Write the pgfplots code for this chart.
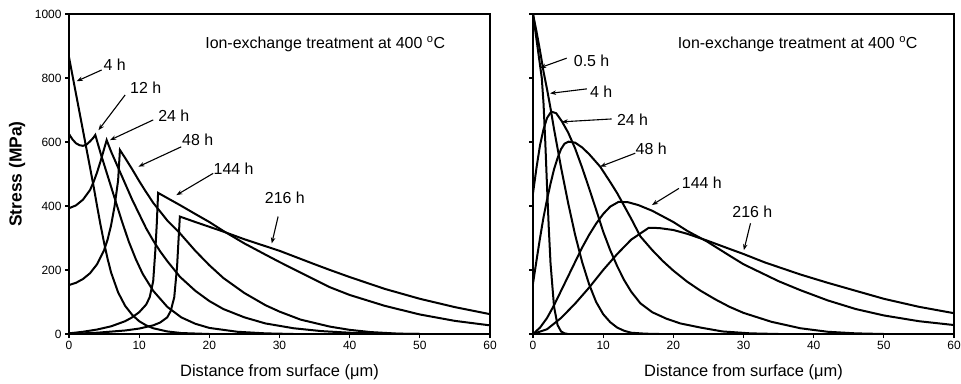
\documentclass[border=0pt]{standalone}
\usepackage{fontspec}
\setmainfont{Liberation Sans}
\usepackage{pgfplots}
\pgfplotsset{compat=1.18}
\usetikzlibrary{arrows.meta}

\pgfplotsset{
  panel/.style={
    scale only axis, width=421bp, height=320bp,
    xmin=0, xmax=60, ymin=0, ymax=1000,
    xtick={0,10,...,60}, ytick={0,200,...,1000},
    tick pos=left, tick align=outside,
    major tick length=4bp,
    axis line style={line width=1.2bp},
    every tick/.style={line width=1.2bp, black},
    /pgf/number format/assume math mode=true,
    /pgf/number format/1000 sep={},
    tick label style={font=\fontsize{12}{14}\selectfont},
    xlabel style={at={(axis description cs:0.5,-0.118)}, anchor=center, font=\fontsize{16.5}{19}\selectfont},
    ylabel style={at={(axis description cs:-0.123,0.5)}, anchor=center, font=\bfseries\fontsize{17.5}{20}\selectfont},
    every axis plot post/.style={black, solid, mark=none, line width=2bp},
  },
}
\tikzset{
  lab/.style={anchor=west, font=\fontsize{16}{18}\selectfont, inner sep=0pt},
  arr/.style={-{Stealth[length=6bp,width=4.5bp]}, line width=1.1bp},
}

\begin{document}
\begin{tikzpicture}[x=1bp,y=1bp]
\useasboundingbox (0,0) rectangle (961,383);

% ---------------- Left panel ----------------
\begin{axis}[panel, at={(69bp,49bp)}, anchor=south west,
  ylabel={Stress (MPa)}, xlabel={Distance from surface (μm)}]
% 4 h
\addplot coordinates {(0,865)(1,750)(2,635)(3,520)(3.5,462)(4,400)(4.5,340)(5,285)(5.5,235)(6,192)(7,130)(8,88)(9,60)(10,40)(11,27)(12,18)(14,8)(16,3)(20,0)(60,0)};
% 12 h
\addplot coordinates {(0,625)(0.5,608)(1,596)(1.5,590)(2,588)(2.5,592)(3,602)(3.5,614)(3.75,622)(4.5,565)(5.5,495)(6.5,425)(7.5,355)(8.5,290)(9.5,235)(10.5,188)(12,135)(14,85)(16,52)(18,32)(20,19)(24,7)(28,2)(32,0)(60,0)};
% 24 h
\addplot coordinates {(0,393)(1,402)(2,420)(3,450)(3.5,475)(4,505)(4.5,540)(5,578)(5.37,606)(6,570)(7,520)(8,470)(9,420)(10,375)(11,330)(12,292)(13,258)(14,228)(15.8,179)(18,135)(20,103)(22,78)(25,52)(28,33)(32,18)(36,9)(40,4)(45,1)(50,0)(60,0)};
% 48 h
\addplot coordinates {(0,153)(1,160)(2,172)(3,190)(4,218)(5,262)(5.5,295)(6,340)(6.5,400)(7,480)(7.26,575)(8,550)(9,515)(10,478)(10.8,450)(12,410)(14,355)(15.8,315)(18,260)(20,215)(22,175)(25,128)(28,90)(30,70)(33,45)(37.2,23)(40,13)(43,6)(47,1)(50,0)(60,0)};
% 144 h
\addplot coordinates {(0,2)(2,7)(4,14)(6,24)(8,40)(9,52)(10,68)(11,92)(11.5,115)(12,165)(12.3,260)(12.5,340)(12.7,441)(14,425)(15.8,403)(18,375)(20,350)(22,322)(25,283)(28,248)(30,225)(35,170)(37.2,146)(40,122)(45,88)(50,61)(55,41)(60,27)};
% 216 h
\addplot coordinates {(0,0)(4,4)(8,11)(10,17)(12,27)(13,36)(14,52)(14.5,72)(15,115)(15.4,210)(15.6,290)(15.8,367)(18,350)(20,335)(22,320)(25,296)(30,260)(35,218)(37.2,200)(40,178)(45,141)(50,110)(55,84)(60,62)};

\node[lab] at (axis cs:19.4,906) {Ion-exchange treatment at 400 \textsuperscript{o}C};
\node[lab] at (axis cs:4.9,840) {4 h};
\draw[arr] (axis cs:4.65,825) -- (axis cs:1.1,790);
\node[lab] at (axis cs:8.7,769) {12 h};
\draw[arr] (axis cs:8.0,747) -- (axis cs:4.2,637);
\node[lab] at (axis cs:12.7,681) {24 h};
\draw[arr] (axis cs:12.0,669) -- (axis cs:5.85,606);
\node[lab] at (axis cs:16.1,606) {48 h};
\draw[arr] (axis cs:16.0,585) -- (axis cs:9.9,523);
\node[lab] at (axis cs:20.6,516) {144 h};
\draw[arr] (axis cs:20.55,502) -- (axis cs:15.3,434);
\node[lab] at (axis cs:27.9,425) {216 h};
\draw[arr] (axis cs:29.8,367) -- (axis cs:28.9,283);
\end{axis}

% ---------------- Right panel ----------------
\begin{axis}[panel, at={(533bp,49bp)}, anchor=south west,
  yticklabels={}, xlabel={Distance from surface (μm)}]
% 0.5 h
\addplot coordinates {(0,1000)(0.5,920)(1,840)(1.25,800)(1.5,720)(1.75,600)(2,460)(2.25,330)(2.5,220)(3,85)(3.5,28)(4,8)(4.5,2)(5,0)(60,0)};
% 4 h
\addplot coordinates {(0,1000)(0.5,945)(1,885)(1.5,820)(2,765)(2.5,705)(3,640)(4,520)(5,410)(6,310)(7,225)(8,155)(9,100)(10,62)(11,37)(12,20)(13,10)(14,4)(16,1)(18,0)(60,0)};
% 24 h
\addplot coordinates {(0,440)(0.5,520)(1,590)(1.5,640)(2,675)(2.6,695)(3.3,690)(4.1,665)(5,630)(6,580)(7,520)(8,455)(9,388)(10,320)(11,262)(12,212)(13,168)(14,132)(15.3,96)(17,68)(19,48)(21,33)(23.9,20)(27,8)(31,2)(35,0)(60,0)};
% 48 h
\addplot coordinates {(0,158)(0.5,230)(1,300)(1.5,365)(2,420)(2.5,470)(3,515)(3.5,550)(4,578)(4.5,595)(5.05,601)(6,598)(7,583)(8,562)(9.57,523)(11,475)(12,440)(13,400)(14,360)(15.3,305)(17,262)(18.5,228)(20,198)(22,163)(23.9,135)(26,108)(28,85)(30,66)(34,38)(38.1,18)(42,7)(46,2)(50,0)(60,0)};
% 144 h
\addplot coordinates {(0,0)(1,20)(2,50)(3,90)(4,135)(5,180)(6,225)(7,270)(8,310)(9,345)(10,375)(11,398)(12.2,413)(13.5,412)(15,403)(17,385)(20,350)(22,322)(24.8,289)(28,245)(30,218)(35,165)(38.1,137)(42,105)(46,78)(50,58)(55,40)(60,28)};
% 216 h
\addplot coordinates {(0,0)(2,15)(4,50)(6,95)(8,145)(10,200)(12,250)(14,295)(16.5,332)(18,331)(20,325)(22,313)(24.8,292)(28,266)(30,250)(33,224)(38.1,186)(42,160)(46,135)(50,110)(55,85)(60,65)};

\node[lab] at (axis cs:20.6,906) {Ion-exchange treatment at 400 \textsuperscript{o}C};
\node[lab] at (axis cs:5.8,853) {0.5 h};
\draw[arr] (axis cs:4.8,862) -- (axis cs:1.0,832);
\node[lab] at (axis cs:8.1,757) {4 h};
\draw[arr] (axis cs:7.67,766) -- (axis cs:2.43,752);
\node[lab] at (axis cs:11.95,669) {24 h};
\draw[arr] (axis cs:11.2,672) -- (axis cs:4.1,663);
\node[lab] at (axis cs:14.6,578) {48 h};
\draw[arr] (axis cs:14.57,565) -- (axis cs:9.57,523);
\node[lab] at (axis cs:21.2,472) {144 h};
\draw[arr] (axis cs:20.8,455) -- (axis cs:16.95,403);
\node[lab] at (axis cs:28.4,382) {216 h};
\draw[arr] (axis cs:31.0,346) -- (axis cs:30.05,262);
\end{axis}
\end{tikzpicture}
\end{document}
